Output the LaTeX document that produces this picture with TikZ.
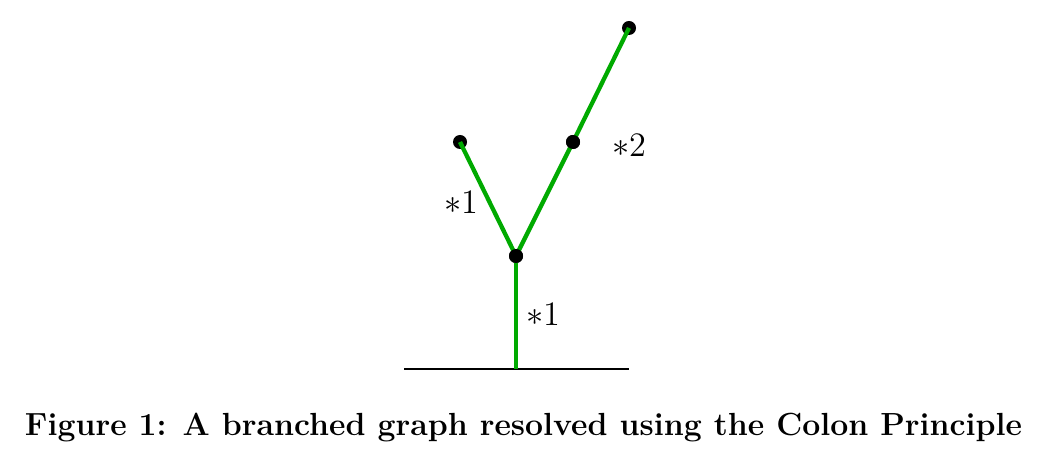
\documentclass[tikz,border=0pt]{standalone}
\begin{document}
\begin{tikzpicture}[x=0.35pt,y=-0.35pt,
  branch/.style={line width=1.5pt,draw={rgb,255:red,0;green,170;blue,0}},
  vtx/.style={circle,fill=black,inner sep=0pt,minimum size=4.9pt},
  lbl/.style={inner sep=0pt,font=\large}]
\useasboundingbox (0,0) rectangle (1043,459);
\coordinate (gl) at (404,369);
\coordinate (gr) at (629,369);
\coordinate (root) at (516,369);
\node[vtx] (m) at (516,256) {};
\node[vtx] (l) at (460,142) {};
\node[vtx] (r) at (573,142) {};
\node[vtx] (t) at (629,28) {};
\draw[line width=0.75pt] (gl) -- (gr);
\draw[branch] (root) -- (m.center);
\draw[branch] (m.center) -- (l.center);
\draw[branch] (m.center) -- (r.center);
\draw[branch] (r.center) -- (t.center);
\node[vtx] at (m) {};
\node[vtx] at (r) {};
\node[lbl] (a) at (543,314) {$*1$};
\node[lbl] (b) at (461,202) {$*1$};
\node[lbl] (c) at (629,145) {$*2$};
\node[inner sep=0pt,font=\fontsize{11.2}{13}\selectfont\bfseries] (cap) at (523.5,428) {Figure 1: A branched graph resolved using the Colon Principle};
\end{tikzpicture}
\end{document}
